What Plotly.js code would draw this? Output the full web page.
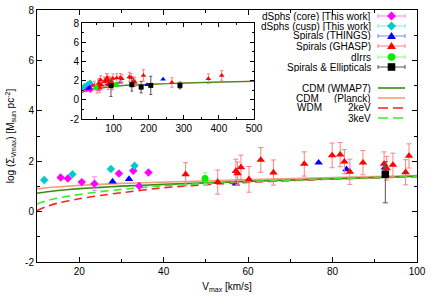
<!DOCTYPE html>
<html><head><meta charset="utf-8">
<script src="https://cdn.plot.ly/plotly-3.0.1.min.js"></script>
<style>html,body{margin:0;padding:0;background:#fff}#chart{width:436px;height:305px}</style>
</head><body><div id="chart"></div>
<script>
// ---------- data ----------
const coreX = [15.6, 17.3, 20.6, 23.6, 29.4, 32.8, 34.2, 36.4];
const coreY = [1.35, 1.31, 1.17, 1.11, 1.51, 1.62, 1.02, 1.55];
const coreErr = [0, 0, 0, 0.27, 0, 0, 0, 0];

const cuspX = [11.7, 18.4, 27.5, 33.1];
const cuspY = [1.25, 1.48, 1.69, 1.82];
const cuspErr = [0, 0, 0, 0];

const thingsX = [27.9, 31.8, 57.1, 76.7, 83.3, 92.4, 119, 195, 241];
const thingsY = [1.19, 1.29, 1.11, 1.94, 1.68, 1.75, 1.84, 1.57, 2.13];

const ghaspX = [45.2, 52.8, 57.1, 57.5, 58.3, 60.2, 63.0, 66.0, 73.3, 79.9, 81.8, 82.8, 84.1, 87.2, 92.2, 92.8, 94.3, 97.3, 98.1,
                109, 119, 123.6, 145, 150, 157, 161, 185, 266, 370, 408];
const ghaspY = [1.48, 1.17, 1.61, 1.52, 1.76, 1.28, 2.05, 1.55, 1.89, 2.23, 2.26, 1.98, 1.58, 1.94, 1.89, 1.72, 1.85, 1.56, 2.21,
                2.26, 2.30, 2.20, 2.37, 2.30, 1.95, 1.84, 2.54, 1.80, 2.20, 2.54];
const ghaspErr = [0.46, 0.48, 0.47, 0.45, 0.48, 0.51, 0.49, 0.50, 0.48, 0.49, 0.48, 0.48, 0.50, 0.48, 0.48, 0.47, 0.47, 0.50, 0.48,
                  0.45, 0.45, 0.45, 0.50, 0.45, 0.45, 0.45, 0.60, 0.50, 0.50, 0.50];

const dirrX = [49.8, 107.4];
const dirrY = [1.31, 1.60];
const dirrErr = [0.23, 0.25];

const spellX = [92.5, 152, 178.5, 206, 289];
const spellY = [1.48, 1.57, 1.32, 1.50, 1.50];
const spellErrPlus = [0.50, 0.66, 0.60, 0.95, 0.35];
const spellErrMinus = [1.13, 0.66, 0.60, 0.95, 0.35];

const curveX  = [10, 12, 15, 20, 25, 30, 40, 50, 60, 70, 80, 90, 100, 150, 200, 300, 400, 500];
const wmap7Y  = [0.73, 0.78, 0.84, 0.91, 0.96, 1.01, 1.08, 1.14, 1.20, 1.25, 1.30, 1.35, 1.40, 1.52, 1.60, 1.74, 1.84, 1.92];
const planckY = [0.90, 0.94, 0.98, 1.04, 1.08, 1.12, 1.17, 1.22, 1.27, 1.31, 1.35, 1.39, 1.43, 1.55, 1.63, 1.76, 1.86, 1.94];
const wdm3Y   = [0.30, 0.42, 0.54, 0.68, 0.79, 0.88, 1.03, 1.12, 1.19, 1.25, 1.30, 1.35, 1.39, 1.52, 1.60, 1.74, 1.84, 1.92];
const wdm2Y   = [0.04, 0.19, 0.34, 0.51, 0.64, 0.75, 0.95, 1.07, 1.16, 1.23, 1.29, 1.34, 1.38, 1.51, 1.60, 1.74, 1.84, 1.92];

const yTickVals = [-2, 0, 2, 4, 6, 8];
const yTickText = ['-2', '0', '2', '4', '6', '8'];

const legendLabels = ['dSphs (core) [This work]', 'dSphs (cusp) [This work]', 'Spirals (THINGS)', 'Spirals (GHASP)',
                      'dIrrs', 'Spirals & Ellipticals', 'CDM (WMAP7)', '(Planck)', '2keV', '3keV'];

// ---------- styles ----------
const FONT = '"Liberation Sans", Arial, Helvetica, sans-serif';
const C = {
  core: '#ff00ff', coreE: '#ff80ff',
  cusp: '#00cccc', cuspE: '#80e8e8',
  things: '#0000ff', thingsE: '#8080ff',
  ghasp: '#ff0000', ghaspE: '#ff8080',
  dirr: '#00ee00', dirrE: '#80ff80',
  spell: '#000000', spellE: '#555555',
  wmap7: '#3c8a14', planck: '#f0a080', wdm2: '#ff2020', wdm3: '#30ee30'
};

function pts(xa, ya, x, y, sym, col, ecol, size, err, errMinus, lw) {
  const t = {x, y, xaxis: xa, yaxis: ya, type: 'scatter', mode: 'markers',
    marker: {symbol: sym, color: col, size: size, line: {width: 0}}, hoverinfo: 'skip'};
  if (err) {
    t.error_y = {type: 'data', array: err, visible: true, color: ecol, thickness: 1, width: lw};
    if (errMinus) { t.error_y.symmetric = false; t.error_y.arrayminus = errMinus; }
  }
  return t;
}
function crv(xa, ya, y, col, dash, w) {
  return {x: curveX, y, xaxis: xa, yaxis: ya, type: 'scatter', mode: 'lines',
    line: {color: col, width: w, dash: dash, shape: 'spline', smoothing: 0.6}, hoverinfo: 'skip'};
}

const traces = [];
// main panel
traces.push(crv('x', 'y', planckY, C.planck, 'solid', 1.6));
traces.push(crv('x', 'y', wmap7Y, C.wmap7, 'solid', 1.6));
traces.push(crv('x', 'y', wdm2Y, C.wdm2, '8px,5px', 1.6));
traces.push(crv('x', 'y', wdm3Y, C.wdm3, '8px,5px', 1.6));
traces.push(pts('x', 'y', coreX, coreY, 'diamond', C.core, C.coreE, 6.5, coreErr, null, 2.5));
traces.push(pts('x', 'y', cuspX, cuspY, 'diamond', C.cusp, C.cuspE, 6.5, cuspErr, null, 2.5));
traces.push(pts('x', 'y', thingsX, thingsY, 'triangle-up', C.things, C.thingsE, 7.5, null, null, 2.5));
traces.push(pts('x', 'y', ghaspX, ghaspY, 'triangle-up', C.ghasp, C.ghaspE, 7.5, ghaspErr, null, 2.5));
traces.push(pts('x', 'y', dirrX, dirrY, 'circle', C.dirr, C.dirrE, 7, dirrErr, null, 2.5));
traces.push(pts('x', 'y', spellX, spellY, 'square', C.spell, C.spellE, 7.5, spellErrPlus, spellErrMinus, 2.5));
// inset panel
traces.push(crv('x2', 'y2', planckY, C.planck, 'solid', 1.2));
traces.push(crv('x2', 'y2', wmap7Y, C.wmap7, 'solid', 1.2));
traces.push(pts('x2', 'y2', coreX, coreY, 'diamond', C.core, C.coreE, 4.5, coreErr, null, 1.5));
traces.push(pts('x2', 'y2', cuspX, cuspY, 'diamond', C.cusp, C.cuspE, 4.5, cuspErr, null, 1.5));
traces.push(pts('x2', 'y2', thingsX, thingsY, 'triangle-up', C.things, C.thingsE, 5, null, null, 1.5));
traces.push(pts('x2', 'y2', ghaspX, ghaspY, 'triangle-up', C.ghasp, C.ghaspE, 5, ghaspErr, null, 1.5));
traces.push(pts('x2', 'y2', dirrX, dirrY, 'circle', C.dirr, C.dirrE, 5, dirrErr, null, 1.5));
traces.push(pts('x2', 'y2', spellX, spellY, 'square', C.spell, C.spellE, 5, spellErrPlus, spellErrMinus, 1.5));

// ---------- layout ----------
const M = {l: 37, r: 19, t: 10, b: 43};
const PW = 436 - M.l - M.r, PH = 305 - M.t - M.b;
const px2x = p => (p - M.l) / PW;
const py2y = p => (M.t + PH - p) / PH;

function axisBase(extra) {
  return Object.assign({
    ticks: 'inside', ticklen: 5, tickwidth: 1, tickcolor: '#000',
    showline: true, linecolor: '#000', linewidth: 1, mirror: 'allticks',
    showgrid: false, zeroline: false, fixedrange: true,
    tickfont: {family: FONT, size: 10, color: '#000'}
  }, extra);
}

const annotations = [];
const shapes = [];
const rows = [16, 26, 36, 46, 57, 67, 88, 98, 108, 118];
const TX = 372, K0 = 378, K1 = 405, KM = 391.5;
const lf = {family: FONT, size: 10, color: '#000'};
function addText(txt, xr, row) {
  annotations.push({xref: 'paper', yref: 'paper', x: px2x(xr), y: py2y(row), xanchor: 'right', yanchor: 'middle',
    text: txt, showarrow: false, font: lf, borderpad: 0, height: 9, valign: 'middle'});
}
legendLabels.forEach((t, i) => addText(t, TX, rows[i]));
addText('CDM', 320, rows[7]);
addText('WDM', 323, rows[8]);

function keyLine(row, col, w, dash, caps) {
  shapes.push({type: 'line', xref: 'paper', yref: 'paper', x0: px2x(K0), x1: px2x(K1), y0: py2y(row), y1: py2y(row),
    line: {color: col, width: w, dash: dash || 'solid'}});
  if (caps) {
    [K0, K1].forEach(k => shapes.push({type: 'line', xref: 'paper', yref: 'paper', x0: px2x(k), x1: px2x(k),
      y0: py2y(row - 2), y1: py2y(row + 2), line: {color: col, width: 1}}));
  }
}
function keyMarker(row, kind, col) {
  const base = {xref: 'paper', yref: 'paper', xsizemode: 'pixel', ysizemode: 'pixel',
    xanchor: px2x(KM), yanchor: py2y(row), fillcolor: col, line: {width: 0, color: col}};
  if (kind === 'diamond') shapes.push(Object.assign({type: 'path', path: 'M0,4.5L4.5,0L0,-4.5L-4.5,0Z'}, base));
  if (kind === 'tri') shapes.push(Object.assign({type: 'path', path: 'M-4.5,-3L4.5,-3L0,4Z'}, base));
  if (kind === 'circle') shapes.push(Object.assign({type: 'circle', x0: -3.8, x1: 3.8, y0: -3.8, y1: 3.8}, base));
  if (kind === 'square') shapes.push(Object.assign({type: 'rect', x0: -3.8, x1: 3.8, y0: -3.8, y1: 3.8}, base));
}
keyLine(rows[0], C.coreE, 1, null, true);   keyMarker(rows[0], 'diamond', C.core);
keyLine(rows[1], C.cuspE, 1, null, true);   keyMarker(rows[1], 'diamond', C.cusp);
keyLine(rows[2], C.thingsE, 1, null, true); keyMarker(rows[2], 'tri', C.things);
keyLine(rows[3], C.ghaspE, 1, null, true);  keyMarker(rows[3], 'tri', C.ghasp);
keyLine(rows[4], C.dirrE, 1, null, true);   keyMarker(rows[4], 'circle', C.dirr);
keyLine(rows[5], C.spellE, 1, null, true);  keyMarker(rows[5], 'square', C.spell);
keyLine(rows[6], C.wmap7, 1.6);
keyLine(rows[7], C.planck, 1.6);
keyLine(rows[8], C.wdm2, 1.6, '10px,5px');
keyLine(rows[9], C.wdm3, 1.6, '10px,5px');

const layout = {
  width: 436, height: 305, margin: M,
  paper_bgcolor: '#fff', plot_bgcolor: '#fff',
  showlegend: false, hovermode: false,
  font: {family: FONT, size: 10, color: '#000'},
  xaxis: axisBase({domain: [0, 1], anchor: 'y', range: [10, 100], tick0: 0, dtick: 20,
    minor: {tick0: 0, dtick: 10, ticks: 'inside', ticklen: 3, tickcolor: '#000', showgrid: false},
    title: {text: 'V<sub>max</sub> [km/s]', font: {family: FONT, size: 10}, standoff: 6}}),
  yaxis: axisBase({domain: [0, 1], anchor: 'x', range: [-2, 8], tickmode: 'array', tickvals: yTickVals, ticktext: yTickText,
    minor: {tick0: 0, dtick: 1, ticks: 'inside', ticklen: 3, tickcolor: '#000', showgrid: false},
    title: {text: 'log (Σ<sub>Vmax</sub>) [M<sub>sun</sub> pc<sup>-2</sup>]', font: {family: FONT, size: 10}, standoff: 8}}),
  xaxis2: axisBase({domain: [px2x(82), px2x(254)], anchor: 'y2', range: [10, 500], tick0: 0, dtick: 100, ticklen: 4,
    minor: {tick0: 0, dtick: 50, ticks: 'inside', ticklen: 2, tickcolor: '#000', showgrid: false}}),
  yaxis2: axisBase({domain: [py2y(119), py2y(23)], anchor: 'x2', range: [-2, 8], tickmode: 'array',
    tickvals: yTickVals, ticktext: yTickText, ticklen: 4,
    minor: {tick0: 0, dtick: 1, ticks: 'inside', ticklen: 2, tickcolor: '#000', showgrid: false}}),
  annotations, shapes
};

Plotly.newPlot('chart', traces, layout, {staticPlot: true, displayModeBar: false});
</script>
</body></html>
